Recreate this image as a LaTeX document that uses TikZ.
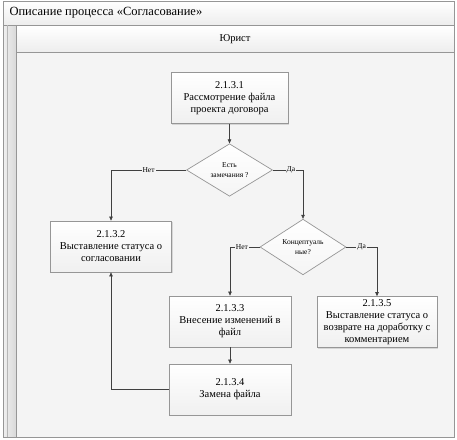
\documentclass[tikz,border=0pt]{standalone}
\usepackage{fontspec}
\setmainfont{Liberation Serif}
\usetikzlibrary{arrows.meta,shapes.geometric,shadows}
\definecolor{lanebg}{RGB}{244,244,244}
\definecolor{frame}{RGB}{150,150,150}
\tikzset{
  procbox/.style={draw=frame, line width=0.7pt, top color=white, bottom color=gray!12,
    minimum width=#1, minimum height=51pt, align=center, inner sep=1pt,
    font=\fontsize{10.5}{12}\selectfont, drop shadow={opacity=0.25, shadow xshift=1pt, shadow yshift=-1pt}},
  procbox/.default=120pt,
  decision/.style={diamond, draw=frame, line width=0.7pt, top color=white, bottom color=gray!8,
    minimum width=86pt, minimum height=50pt, inner sep=0pt, align=center,
    font=\fontsize{7.5}{9.5}\selectfont},
  conn/.style={draw=black!75, line width=0.6pt},
  arr/.style={conn, -{Triangle[length=4pt,width=3.5pt]}},
  lbl/.style={fill=lanebg, inner sep=1pt, font=\fontsize{7.5}{9}\selectfont}
}
\begin{document}
\begin{tikzpicture}[x=1pt,y=-1pt]
\useasboundingbox (0,0) rectangle (457,439);
% frame
\fill[white] (0,0) rectangle (457,439);
\fill[lanebg] (16,52) rectangle (454,437);
\shade[top color=white, bottom color=gray!14] (3,1) rectangle (454,25);
\shade[top color=white, bottom color=gray!14] (16,26) rectangle (454,52);
\shade[left color=gray!12, right color=gray!30] (3,25) rectangle (16,437);
\draw[frame, line width=0.8pt] (3,1) rectangle (454,437);
\draw[frame, line width=0.7pt] (3,25) -- (454,25);
\draw[frame, line width=0.7pt] (16,52) -- (454,52);
\draw[frame, line width=0.7pt] (16,25) -- (16,437);
\draw[frame!70, line width=0.5pt] (7,25) -- (7,437);
\node[anchor=west, font=\fontsize{12.5}{14}\selectfont] (title) at (6,13) {Описание процесса «Согласование»};
\node[font=\fontsize{10.5}{12}\selectfont] (lane) at (235,39) {Юрист};
% nodes
\node[procbox=117pt] (b1) at (229.5,98) {2.1.3.1\\Рассмотрение файла\\проекта договора};
\node[decision] (d1) at (229.5,170) {Есть\\замечания ?};
\node[procbox=121pt] (b2) at (111,246.5) {2.1.3.2\\Выставление статуса о\\согласовании};
\node[decision] (d2) at (303,247) {Концептуаль\\ные?};
\node[procbox=122pt] (b3) at (230,321.5) {2.1.3.3\\Внесение изменений в\\файл};
\node[procbox=120pt] (b5) at (377,322) {2.1.3.5\\Выставление статуса о\\возврате на доработку с\\комментарием};
\node[procbox=122pt] (b4) at (230,389.5) {2.1.3.4\\Замена файла};
% connectors
\draw[arr] (b1) -- (d1);
\draw[arr] (d1.west) -| node[lbl, pos=0.25] {Нет} (b2.north);
\draw[arr] (d1.east) -| node[lbl, pos=0.3] {Да} (d2.north);
\draw[arr] (d2.west) -| node[lbl, pos=0.3] {Нет} (b3.north);
\draw[arr] (d2.east) -| node[lbl, pos=0.25] {Да} (b5.north);
\draw[arr] (b3) -- (b4);
\draw[arr] (b4.west) -| (b2.south);
\end{tikzpicture}
\end{document}
